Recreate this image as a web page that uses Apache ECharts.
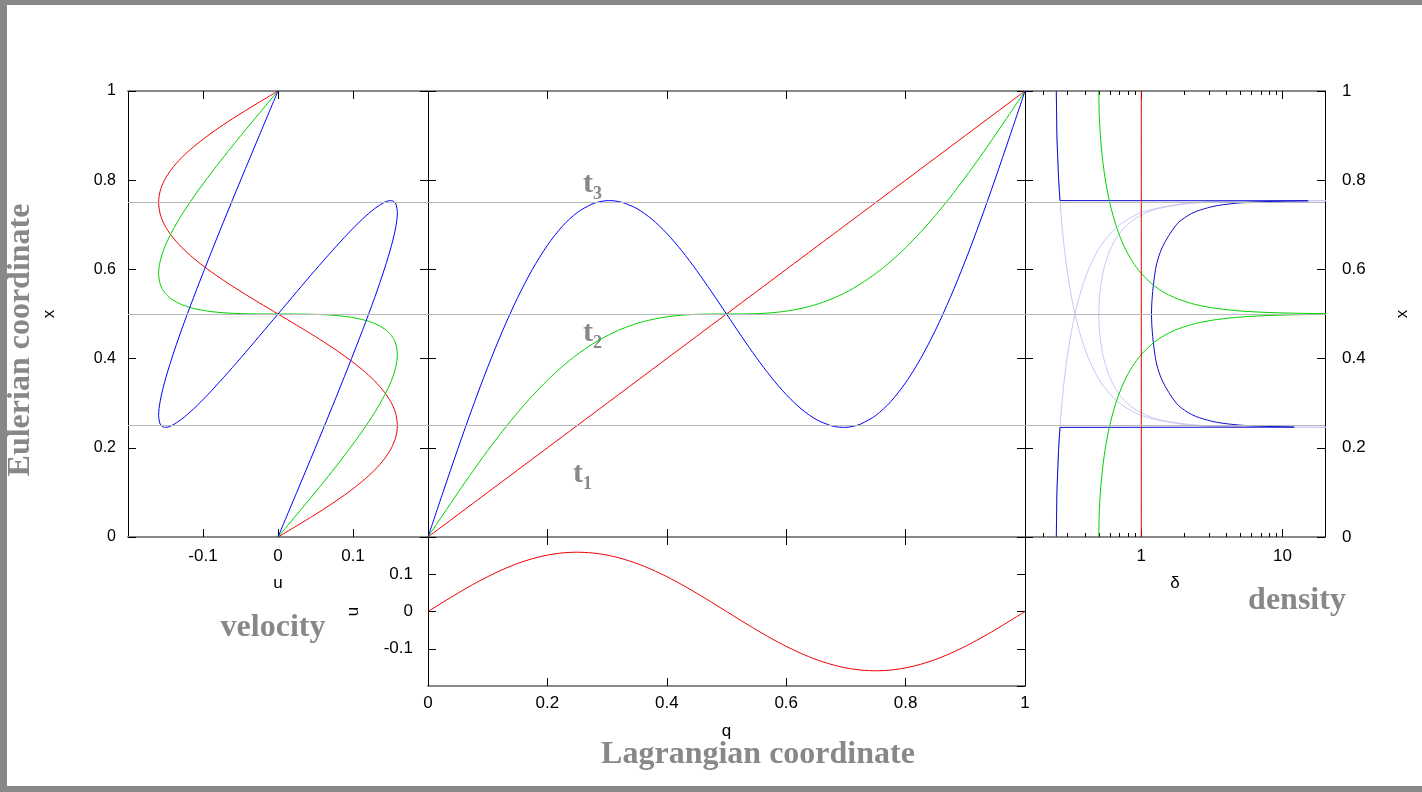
<!DOCTYPE html>
<html>
<head>
<meta charset="utf-8">
<title>Zel'dovich approximation</title>
<script src="https://cdn.jsdelivr.net/npm/echarts@6/dist/echarts.min.js"></script>
<style>
  html, body { margin: 0; padding: 0; background: #fff; }
  #chart { width: 1422px; height: 792px; }
</style>
</head>
<body>
<div id="chart"></div>
<script>
// Lagrangian coordinate q (denser near the caustics q~0.304 and q~0.696)
const qGrid = [0, 0.025, 0.05, 0.075, 0.1, 0.125, 0.15, 0.175, 0.2, 0.225, 0.25, 0.275,
  0.2875, 0.295, 0.3, 0.304, 0.3125,
  0.325, 0.35, 0.375, 0.4, 0.425, 0.45, 0.475, 0.5, 0.525, 0.55, 0.575, 0.6, 0.625, 0.65, 0.675,
  0.6875, 0.696, 0.7, 0.705, 0.7125,
  0.725, 0.75, 0.775, 0.8, 0.825, 0.85, 0.875, 0.9, 0.925, 0.95, 0.975, 1];

// velocity u(q), same at every time
const uVel = [0, 0.0249, 0.0492, 0.0723, 0.0935, 0.1125, 0.1288, 0.1418, 0.1514, 0.1572, 0.1592, 0.1572,
  0.1548, 0.1528, 0.1514, 0.1501, 0.1470,
  0.1418, 0.1288, 0.1125, 0.0935, 0.0723, 0.0492, 0.0249, 0, -0.0249, -0.0492, -0.0723, -0.0935, -0.1125, -0.1288, -0.1418,
  -0.1470, -0.1501, -0.1514, -0.1528, -0.1548,
  -0.1572, -0.1592, -0.1572, -0.1514, -0.1418, -0.1288, -0.1125, -0.0935, -0.0723, -0.0492, -0.0249, 0];

// Eulerian position x(q) at t2 and t3 (at t1 x = q)
const xT2 = [0, 0.0499, 0.0992, 0.1473, 0.1936, 0.2375, 0.2788, 0.3168, 0.3514, 0.3822, 0.4092, 0.4322,
  0.4423, 0.4478, 0.4514, 0.4541, 0.4595,
  0.4668, 0.4788, 0.4875, 0.4936, 0.4973, 0.4992, 0.4999, 0.5, 0.5001, 0.5008, 0.5027, 0.5064, 0.5125, 0.5212, 0.5332,
  0.5405, 0.5459, 0.5486, 0.5522, 0.5577,
  0.5678, 0.5908, 0.6178, 0.6486, 0.6832, 0.7212, 0.7625, 0.8064, 0.8527, 0.9008, 0.9501, 1];

const xT3 = [0, 0.0997, 0.1976, 0.2918, 0.3807, 0.4626, 0.5363, 0.6004, 0.6541, 0.6966, 0.7275, 0.7466,
  0.7518, 0.7535, 0.7541, 0.7542, 0.7536,
  0.7504, 0.7363, 0.7126, 0.6807, 0.6418, 0.5976, 0.5497, 0.5, 0.4503, 0.4024, 0.3582, 0.3193, 0.2874, 0.2637, 0.2496,
  0.2464, 0.2458, 0.2459, 0.2465, 0.2482,
  0.2534, 0.2725, 0.3034, 0.3459, 0.3996, 0.4637, 0.5374, 0.6193, 0.7082, 0.8024, 0.9003, 1];

// density of each stream element (null = infinite)
const deltaT1 = 1;
const deltaT2 = [0.5, 0.5031, 0.5125, 0.5288, 0.5528, 0.5858, 0.6298, 0.6878, 0.7639, 0.8647, 1.0, 1.185,
  1.305, 1.387, 1.447, 1.499, 1.620,
  1.832, 2.425, 3.414, 5.236, 9.17, 20.45, 81.2, null, 81.2, 20.45, 9.17, 5.236, 3.414, 2.425, 1.832,
  1.620, 1.499, 1.447, 1.387, 1.305,
  1.185, 1.0, 0.8647, 0.7639, 0.6878, 0.6298, 0.5858, 0.5528, 0.5288, 0.5125, 0.5031, 0.5];

const deltaT3 = [0.25, 0.2523, 0.2595, 0.2723, 0.2918, 0.3204, 0.3619, 0.4234, 0.5189, 0.6806, 1.0, 1.884,
  3.337, 6.134, 13.72, 1000, 6.754,
  2.762, 1.310, 0.8918, 0.7007, 0.5977, 0.5396, 0.5094, 0.5, 0.5094, 0.5396, 0.5977, 0.7007, 0.8918, 1.310, 2.762,
  6.754, 1000, 13.72, 6.134, 3.337,
  1.884, 1.0, 0.6806, 0.5189, 0.4234, 0.3619, 0.3204, 0.2918, 0.2723, 0.2595, 0.2523, 0.25];

// total density at t3 (sum over streams) against x
const totalX = [0, 0.0997, 0.1976, 0.2457, 0.2464, 0.247, 0.25, 0.255, 0.26, 0.27, 0.28, 0.3, 0.35, 0.4, 0.5,
  0.6, 0.65, 0.7, 0.72, 0.73, 0.74, 0.745, 0.75, 0.753, 0.7538, 0.7543, 0.8024, 0.9003, 1];
const totalDelta = [0.25, 0.2523, 0.2595, 0.2654, 12.1, 10.07, 5.45, 3.78, 3.11, 2.45, 2.12, 1.77, 1.41, 1.26, 1.18,
  1.26, 1.41, 1.77, 2.12, 2.45, 3.11, 3.78, 5.45, 10.07, 15.2, 0.2654, 0.2595, 0.2523, 0.25];

const causticLevels = [0.2457, 0.5, 0.7543];
const densityMinorTicks = [0.2, 0.3, 0.4, 0.5, 0.6, 0.7, 0.8, 0.9, 2, 3, 4, 5, 6, 7, 8, 9];

const RED = '#f00000';
const GREEN = '#00d000';
const BLUE = '#0000ff';
const DARKBLUE = '#1010d0';
const LAVENDER = '#c8c8f6';
const REFGRAY = '#b8b8b8';
const FRAMEGRAY = '#888888';
const TITLEGRAY = '#888888';
const SANS = '"Liberation Sans", Arial, sans-serif';
const SERIF = '"Liberation Serif", "Times New Roman", serif';

function frameAxis(gridIndex, position, extra) {
  const horizontal = position === 'top' || position === 'bottom';
  return Object.assign({
    gridIndex: gridIndex,
    position: position,
    type: 'value',
    axisLine: { show: true, onZero: false, lineStyle: { color: horizontal ? FRAMEGRAY : '#000', width: horizontal ? 2 : 1 } },
    axisTick: { show: true, inside: true, length: 8, lineStyle: { color: '#000' } },
    axisLabel: { show: false },
    splitLine: { show: false },
    minorTick: { show: false },
    nameTextStyle: { fontFamily: SANS, fontSize: 17, color: '#000' }
  }, extra);
}

function labels(size, margin, extra) {
  return Object.assign({ show: true, fontFamily: SANS, fontSize: size, color: '#000', margin: margin }, extra);
}

function curve(name, xi, yi, data, color, extra) {
  return Object.assign({
    name: name,
    type: 'line',
    xAxisIndex: xi,
    yAxisIndex: yi,
    data: data,
    showSymbol: false,
    smooth: 0.3,
    lineStyle: { color: color, width: 1 },
    itemStyle: { color: color },
    silent: true
  }, extra);
}

const refLines = {
  silent: true,
  symbol: ['none', 'none'],
  label: { show: false },
  lineStyle: { color: REFGRAY, width: 1, type: 'solid' },
  data: causticLevels.map(v => ({ yAxis: v }))
};

const pairs = (xs, ys) => xs.map((v, i) => [v, ys[i]]);
const totalPairs = pairs(totalDelta, totalX);
const logLabel = v => (Math.abs(v - 1) < 1e-9 ? '1' : Math.abs(v - 10) < 1e-9 ? '10' : '');

function renderMinorTick(params, api) {
  const bottom = api.coord([api.value(0), 0]);
  const top = api.coord([api.value(0), 1]);
  const px = Math.round(bottom[0]) + 0.5;
  const style = { stroke: '#000', lineWidth: 1 };
  return {
    type: 'group',
    children: [
      { type: 'line', shape: { x1: px, y1: bottom[1], x2: px, y2: bottom[1] - 4 }, style: style },
      { type: 'line', shape: { x1: px, y1: top[1], x2: px, y2: top[1] + 4 }, style: style }
    ]
  };
}

function titleText(text, x, y, rotation) {
  return {
    type: 'text', x: x, y: y, rotation: rotation || 0, silent: true,
    style: { text: text, font: 'bold 32px ' + SERIF, fill: TITLEGRAY,
      align: 'center', verticalAlign: 'middle', textAlign: 'center', textVerticalAlign: 'middle' }
  };
}

function timeLabel(sub, x, y) {
  return [
    { type: 'text', x: x, y: y, silent: true,
      style: { text: 't', font: 'bold 30px ' + SERIF, fill: TITLEGRAY,
        align: 'left', verticalAlign: 'middle', textAlign: 'left', textVerticalAlign: 'middle' } },
    { type: 'text', x: x + 10, y: y + 10, silent: true,
      style: { text: sub, font: 'bold 18px ' + SERIF, fill: TITLEGRAY,
        align: 'left', verticalAlign: 'middle', textAlign: 'left', textVerticalAlign: 'middle' } }
  ];
}

const chart = echarts.init(document.getElementById('chart'), null, { width: 1422, height: 792 });

const option = {
  animation: false,
  backgroundColor: '#fff',
  grid: [
    { left: 128, top: 91, width: 300, height: 446 },   // velocity
    { left: 428, top: 91, width: 597, height: 446 },   // x(q)
    { left: 428, top: 537, width: 597, height: 149 },  // u(q)
    { left: 1025, top: 91, width: 300, height: 446 }   // density
  ],
  xAxis: [
    frameAxis(0, 'bottom', { min: -0.2, max: 0.2, interval: 0.1, name: 'u', nameLocation: 'middle', nameGap: 38,
      axisLabel: labels(17, 11, { showMinLabel: false, showMaxLabel: false }) }),
    frameAxis(0, 'top', { min: -0.2, max: 0.2, interval: 0.1 }),
    frameAxis(1, 'bottom', { min: 0, max: 1, interval: 0.2 }),
    frameAxis(1, 'top', { min: 0, max: 1, interval: 0.2 }),
    frameAxis(2, 'bottom', { min: 0, max: 1, interval: 0.2, name: 'q', nameLocation: 'middle', nameGap: 37,
      axisLabel: labels(17, 9) }),
    frameAxis(2, 'top', { min: 0, max: 1, interval: 0.2 }),
    frameAxis(3, 'bottom', { type: 'log', logBase: 10, min: 0.15, max: 20, name: 'δ', nameLocation: 'middle', nameGap: 38,
      axisLabel: labels(17, 11, { formatter: logLabel }) }),
    frameAxis(3, 'top', { type: 'log', logBase: 10, min: 0.15, max: 20 })
  ],
  yAxis: [
    frameAxis(0, 'left', { min: 0, max: 1, interval: 0.2, name: 'x', nameLocation: 'middle', nameGap: 70,
      axisLabel: labels(16, 12) }),
    frameAxis(0, 'right', { min: 0, max: 1, interval: 0.2 }),
    frameAxis(1, 'left', { min: 0, max: 1, interval: 0.2 }),
    frameAxis(1, 'right', { min: 0, max: 1, interval: 0.2 }),
    frameAxis(2, 'left', { min: -0.2, max: 0.2, interval: 0.1, name: 'u', nameLocation: 'middle', nameGap: 66,
      axisLabel: labels(17, 15, { showMinLabel: false, showMaxLabel: false }) }),
    frameAxis(2, 'right', { min: -0.2, max: 0.2, interval: 0.1 }),
    frameAxis(3, 'left', { min: 0, max: 1, interval: 0.2 }),
    frameAxis(3, 'right', { min: 0, max: 1, interval: 0.2, name: 'x', nameLocation: 'middle', nameGap: 69,
      axisLabel: labels(17, 17) })
  ],
  series: [
    // velocity panel: u against x
    curve('t1 velocity', 0, 0, pairs(uVel, qGrid), RED, { markLine: refLines }),
    curve('t2 velocity', 0, 0, pairs(uVel, xT2), GREEN),
    curve('t3 velocity', 0, 0, pairs(uVel, xT3), BLUE),
    // mapping x(q)
    curve('t1', 2, 2, pairs(qGrid, qGrid), RED, { markLine: refLines }),
    curve('t2', 2, 2, pairs(qGrid, xT2), GREEN),
    curve('t3', 2, 2, pairs(qGrid, xT3), BLUE),
    // u(q)
    curve('u', 4, 4, pairs(qGrid, uVel), RED),
    // density panel
    curve('t3 streams', 6, 6, pairs(deltaT3, xT3), LAVENDER, { markLine: refLines }),
    curve('t3 total lower', 6, 6, totalPairs.slice(0, 5), DARKBLUE, { smooth: false }),
    curve('t3 total', 6, 6, totalPairs.slice(4, 25), DARKBLUE),
    curve('t3 total upper', 6, 6, totalPairs.slice(24), DARKBLUE, { smooth: false }),
    curve('t2 density', 6, 6, pairs(deltaT2, xT2), GREEN),
    curve('t1 density', 6, 6, qGrid.map(q => [deltaT1, q]), RED, { smooth: false }),
    {
      name: 'minor ticks',
      type: 'custom',
      xAxisIndex: 6,
      yAxisIndex: 6,
      silent: true,
      renderItem: renderMinorTick,
      data: densityMinorTicks.map(v => [v, 0])
    }
  ],
  graphic: [
    { type: 'rect', silent: true, shape: { x: 0, y: 0, width: 7, height: 792 }, style: { fill: FRAMEGRAY } },
    { type: 'rect', silent: true, shape: { x: 0, y: 0, width: 1422, height: 5 }, style: { fill: FRAMEGRAY } },
    { type: 'rect', silent: true, shape: { x: 0, y: 786, width: 1422, height: 6 }, style: { fill: FRAMEGRAY } },
    titleText('Eulerian coordinate', 21, 340, Math.PI / 2),
    titleText('velocity', 273, 628),
    titleText('density', 1297, 601),
    titleText('Lagrangian coordinate', 758, 755)
  ].concat(timeLabel('3', 583, 184), timeLabel('2', 583, 333), timeLabel('1', 573, 474))
};

chart.setOption(option);
</script>
</body>
</html>
